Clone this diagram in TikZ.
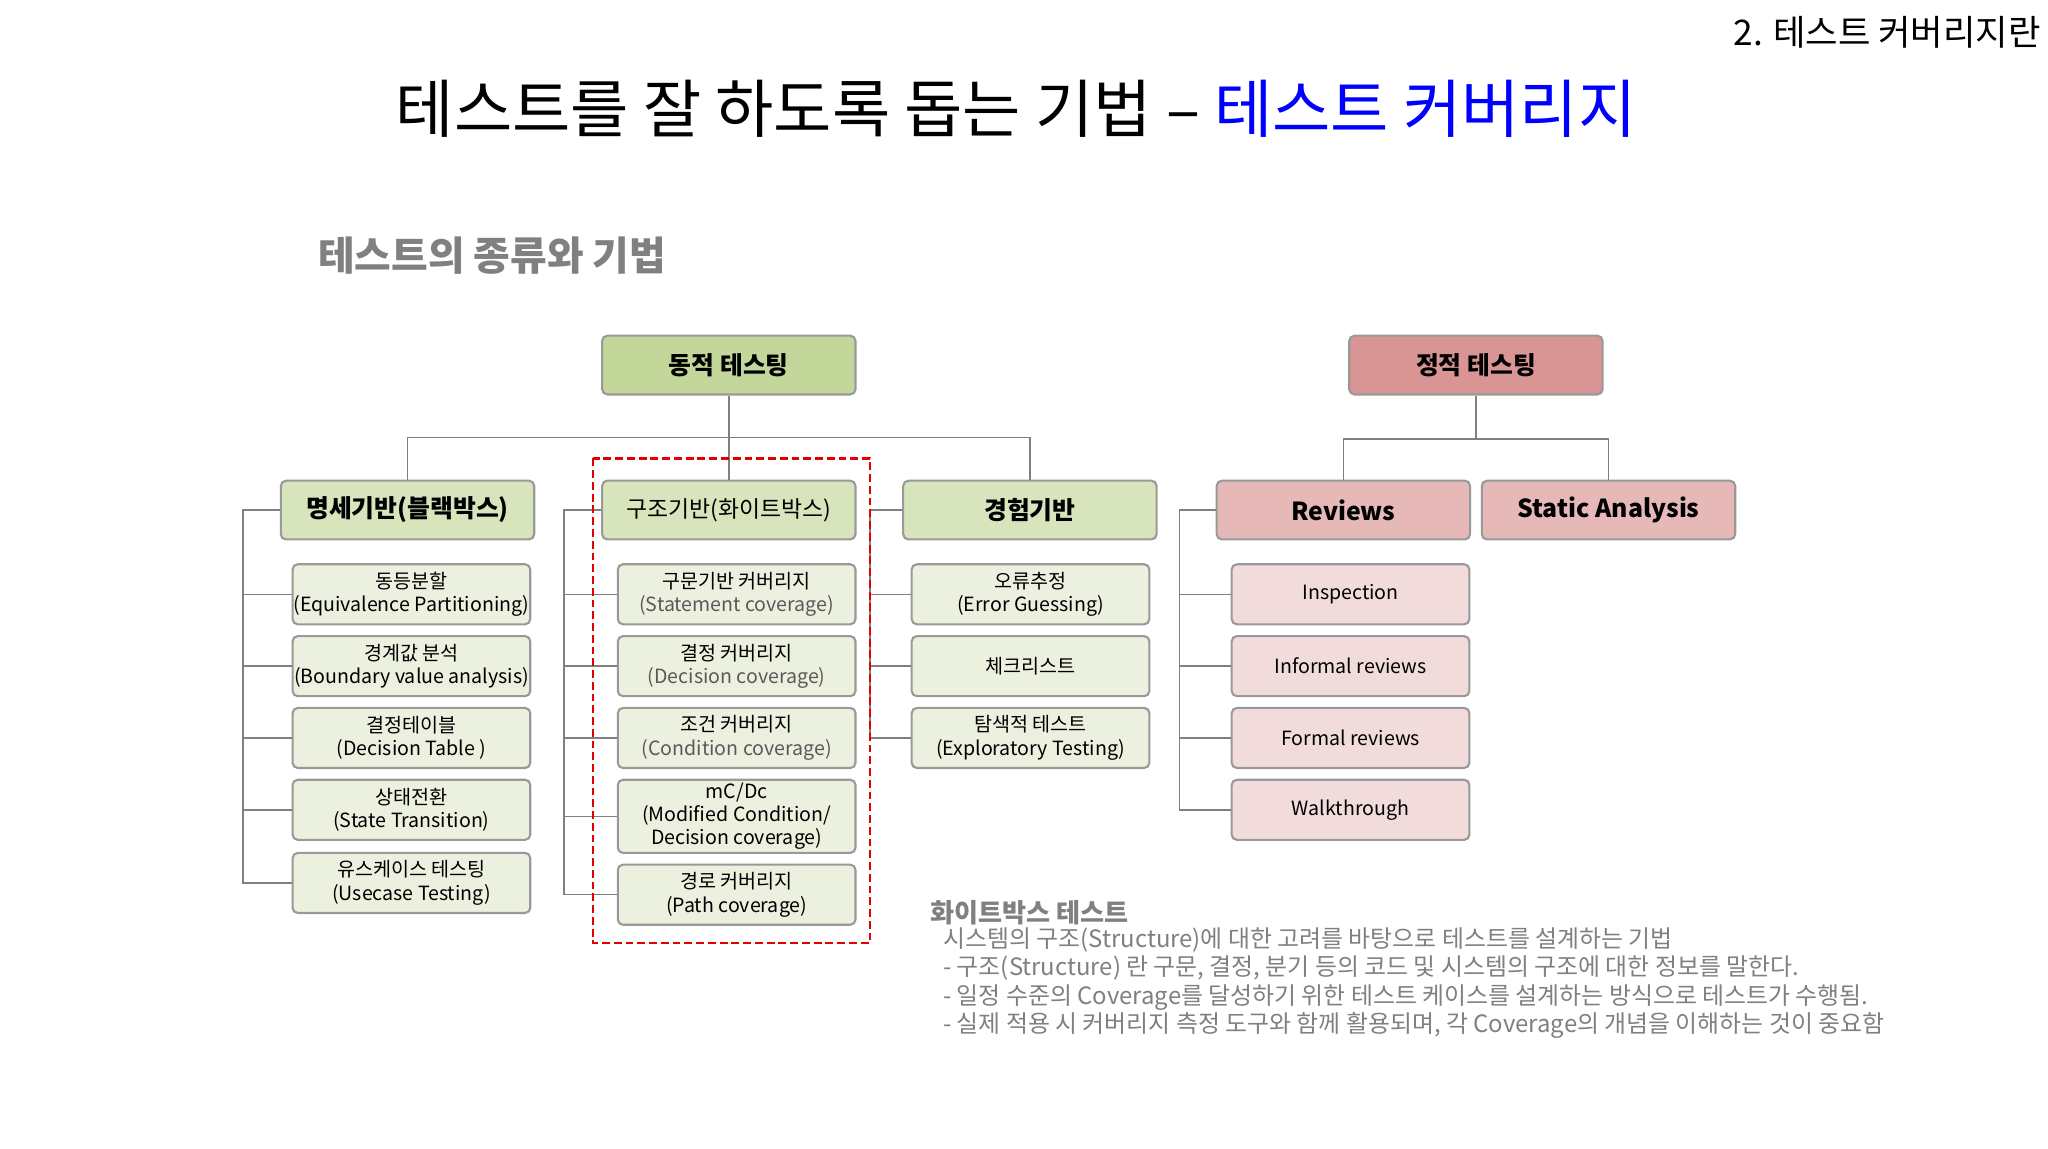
\documentclass[tikz,border=0pt]{standalone}
\usepackage{fontspec}
\setmainfont{Noto Sans CJK KR}
\begin{document}
\begin{tikzpicture}[x=1pt,y=-1pt,
  box/.style={draw=black!40,line width=1.6pt,rounded corners=4pt,inner sep=0pt,align=center},
  big/.style={box,minimum width=194pt,minimum height=45pt,font=\fontsize{19}{22}\selectfont\bfseries},
  small/.style={box,minimum width=182pt,minimum height=46pt,font=\fontsize{15}{18}\selectfont},
  gA/.style={fill={rgb,255:red,196;green,215;blue,155}},
  gB/.style={fill={rgb,255:red,215;green,228;blue,188}},
  gC/.style={fill={rgb,255:red,235;green,241;blue,222}},
  rA/.style={fill={rgb,255:red,217;green,149;blue,148}},
  rB/.style={fill={rgb,255:red,230;green,185;blue,184}},
  rC/.style={fill={rgb,255:red,242;green,220;blue,219}},
  ln/.style={draw=black!50,line width=1.2pt}]
\useasboundingbox (0,0) rectangle (1568,879);
\fill[white] (0,0) rectangle (1568,879);
\node[anchor=east,font=\fontsize{27}{30}\selectfont] (top) at (1566,25) {2. 테스트 커버리지란};
\node[font=\fontsize{48.5}{52}\selectfont] (title) at (778,83) {테스트를 잘 하도록 돕는 기법 – \textcolor{blue}{테스트 커버리지}};
\node[anchor=west,font=\fontsize{30.5}{34}\selectfont\bfseries,text=black!50] (subt) at (240,196) {테스트의 종류와 기법};
% level 1
\node[big,gA] (dyn) at (558,279.5) {동적 테스팅};
\node[big,rA] (sta) at (1130,279.5) {정적 테스팅};
% level 2
\node[big,gB] (bb) at (312,390.5) {명세기반(블랙박스)};
\node[big,gB,font=\fontsize{17.5}{20}\selectfont] (wb) at (558,390.5) {구조기반(화이트박스)};
\node[big,gB] (ex) at (788.5,390.5) {경험기반};
\node[big,rB] (rv) at (1028.5,390.5) {Reviews};
\node[big,rB] (sa) at (1231.5,390.5) {Static Analysis};
\draw[ln] (dyn.south) -- (558,335) coordinate (h1);
\draw[ln] (bb.north) |- (h1) -| (ex.north);
\draw[ln] (h1) -- (wb.north);
\draw[ln] (sta.south) -- (1130,336) coordinate (h2);
\draw[ln] (rv.north) |- (h2) -| (sa.north);
% level 3 left
\node[small,gC] (l1) at (315,455) {동등분할\\(Equivalence Partitioning)};
\node[small,gC] (l2) at (315,510) {경계값 분석\\(Boundary value analysis)};
\node[small,gC] (l3) at (315,565) {결정테이블\\(Decision Table )};
\node[small,gC] (l4) at (315,620) {상태전환\\(State Transition)};
\node[small,gC] (l5) at (315,676) {유스케이스 테스팅\\(Usecase Testing)};
% middle
\node[small,gC] (m1) at (564,455) {구문기반 커버리지\\\textcolor{black!65}{(Statement coverage)}};
\node[small,gC] (m2) at (564,510) {결정 커버리지\\\textcolor{black!65}{(Decision coverage)}};
\node[small,gC] (m3) at (564,565) {조건 커버리지\\\textcolor{black!65}{(Condition coverage)}};
\node[small,gC,minimum height=56pt,font=\fontsize{15}{17.5}\selectfont] (m4) at (564,625) {mC/Dc\\(Modified Condition/\\Decision coverage)};
\node[small,gC] (m5) at (564,685) {경로 커버리지\\(Path coverage)};
% right
\node[small,gC] (e1) at (789,455) {오류추정\\(Error Guessing)};
\node[small,gC] (e2) at (789,510) {체크리스트};
\node[small,gC] (e3) at (789,565) {탐색적 테스트\\(Exploratory Testing)};
% reviews
\node[small,rC] (r1) at (1034,455) {Inspection};
\node[small,rC] (r2) at (1034,510) {Informal reviews};
\node[small,rC] (r3) at (1034,565) {Formal reviews};
\node[small,rC] (r4) at (1034,620) {Walkthrough};
% brackets
\draw[ln] (bb.west) -- (186,390.5) |- (l5.west);
\foreach \n in {l1,l2,l3,l4} \draw[ln] (186,0 |- \n.west) -- (\n.west);
\draw[ln] (wb.west) -- (432,390.5) |- (m5.west);
\foreach \n in {m1,m2,m3,m4} \draw[ln] (432,0 |- \n.west) -- (\n.west);
\draw[ln] (ex.west) -- (666,390.5) |- (e3.west);
\foreach \n in {e1,e2} \draw[ln] (666,0 |- \n.west) -- (\n.west);
\draw[ln] (rv.west) -- (903,390.5) |- (r4.west);
\foreach \n in {r1,r2,r3} \draw[ln] (903,0 |- \n.west) -- (\n.west);
% red dashed
\draw[red!90!black,line width=1.8pt,dash pattern=on 6pt off 3pt] (454,351) rectangle (666,722);
% bottom text
\node[anchor=west,font=\fontsize{20}{22}\selectfont\bfseries,text=black!50] (bh) at (709,699) {화이트박스 테스트};
\node[anchor=north west,align=left,font=\fontsize{18.3}{21.7}\selectfont,text=black!50,inner sep=0pt] (bt) at (722,710)
{시스템의 구조(Structure)에 대한 고려를 바탕으로 테스트를 설계하는 기법\\
- 구조(Structure) 란 구문, 결정, 분기 등의 코드 및 시스템의 구조에 대한 정보를 말한다.\\
- 일정 수준의 Coverage를 달성하기 위한 테스트 케이스를 설계하는 방식으로 테스트가 수행됨.\\
- 실제 적용 시 커버리지 측정 도구와 함께 활용되며, 각 Coverage의 개념을 이해하는 것이 중요함};
\end{tikzpicture}
\end{document}
